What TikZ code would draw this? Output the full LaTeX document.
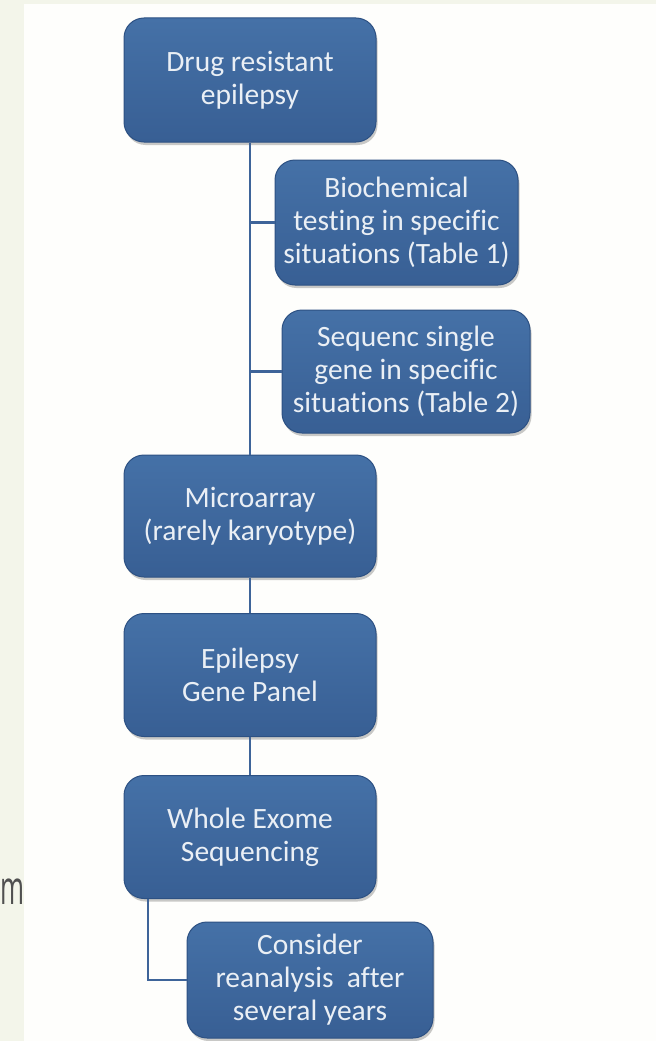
\documentclass[tikz,border=0pt]{standalone}
\usepackage{fontspec}
\setmainfont{Carlito}[Ligatures=CommonOff]
\newfontfamily\notefont{Open Sans}
\usetikzlibrary{shadows}
\definecolor{boxtop}{HTML}{4571A7}
\definecolor{boxbot}{HTML}{385F94}
\definecolor{boxedge}{HTML}{2D5183}
\definecolor{linkcol}{HTML}{3E6499}
\definecolor{stripcol}{HTML}{F3F5EA}
\definecolor{panelcol}{HTML}{FEFEFC}
\definecolor{textcol}{HTML}{EAEFF5}
\definecolor{notecol}{HTML}{505050}
\begin{document}
\begin{tikzpicture}[x=1pt,y=-1pt,
  flowbox/.style={rounded corners=20pt, draw=boxedge, line width=1pt,
    top color=boxtop, bottom color=boxbot, text=textcol,
    font=\fontsize{29.5}{33}\selectfont, align=center, inner sep=0pt,
    drop shadow={shadow xshift=1.5pt, shadow yshift=-3pt, opacity=0.3, fill=black!70}},
  link/.style={draw=linkcol, line width=2.2pt}]
  \useasboundingbox (0,0) rectangle (656,1041);
  % page background: pale strip on the left and top, white panel
  \fill[stripcol] (0,0) rectangle (656,1041);
  \node[anchor=base west, inner sep=0pt, text=notecol,
        font=\notefont\fontsize{47}{47}\selectfont] (note) at (0,904) {\scalebox{0.55}[1]{m}};
  \fill[panelcol] (24,4) rectangle (656,1041);

  % boxes
  \node[flowbox, minimum width=252pt, minimum height=124pt] (n1) at (250,80)
    {Drug resistant\\epilepsy};
  \node[flowbox, minimum width=243pt, minimum height=125pt] (n2) at (396.5,222.5)
    {Biochemical\\testing in specific\\situations (Table 1)};
  \node[flowbox, minimum width=248pt, minimum height=123pt] (n3) at (406,371.5)
    {Sequenc single\\gene in specific\\situations (Table 2)};
  \node[flowbox, minimum width=252pt, minimum height=122pt] (n4) at (250,516)
    {Microarray\\(rarely karyotype)};
  \node[flowbox, minimum width=252pt, minimum height=123pt] (n5) at (250,675)
    {Epilepsy\\Gene Panel};
  \node[flowbox, minimum width=252pt, minimum height=123pt] (n6) at (250,837)
    {Whole Exome\\Sequencing};
  \node[flowbox, minimum width=246pt, minimum height=116pt] (n7) at (310,980)
    {Consider\\reanalysis\ \ after\\several years};

  % connectors
  \draw[link] (n1.south) -- (n4.north);
  \draw[link] (n2.west) -- (n2.west -| n1.south);
  \draw[link] (n3.west) -- (n3.west -| n1.south);
  \draw[link] (n4.south) -- (n5.north);
  \draw[link] (n5.south) -- (n6.north);
  \draw[link] ([xshift=-102pt]n6.south) |- (n7.west);
\end{tikzpicture}
\end{document}
